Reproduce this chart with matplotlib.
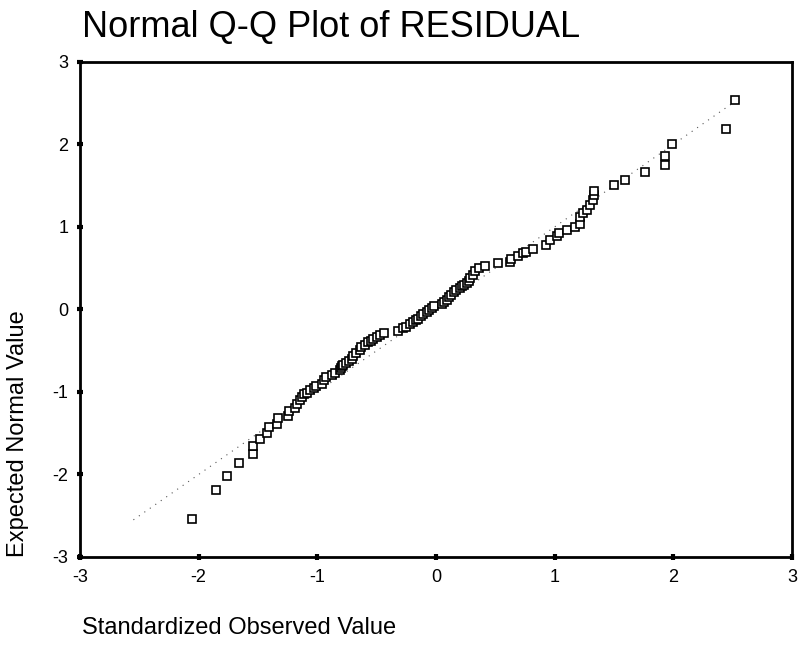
import matplotlib
matplotlib.use('Agg')
import matplotlib.pyplot as plt

# observed (x) vs expected normal (y)
observed = [-2.06, -1.85, -1.76, -1.66, -1.54, -1.54, -1.48, -1.42, -1.41, -1.34,
            -1.33, -1.25, -1.24, -1.19, -1.17, -1.15, -1.13, -1.11, -1.09, -1.06,
            -1.03, -1.01, -0.96, -0.94, -0.93, -0.88, -0.85, -0.81, -0.80, -0.79,
            -0.78, -0.76, -0.73, -0.71, -0.70, -0.67, -0.64, -0.63, -0.60, -0.57,
            -0.55, -0.53, -0.50, -0.47, -0.44, -0.32, -0.28, -0.25, -0.22, -0.19,
            -0.17, -0.15, -0.13, -0.11, -0.08, -0.06, -0.03, -0.02, 0.05, 0.07,
            0.09, 0.11, 0.13, 0.15, 0.17, 0.20, 0.22, 0.24, 0.26, 0.28,
            0.29, 0.31, 0.33, 0.36, 0.41, 0.52, 0.62, 0.63, 0.69, 0.73,
            0.76, 0.82, 0.93, 0.96, 1.02, 1.04, 1.10, 1.17, 1.21, 1.21,
            1.24, 1.27, 1.30, 1.32, 1.33, 1.33, 1.50, 1.59, 1.76, 1.93,
            1.93, 1.99, 2.44, 2.52]
expected = [-2.54, -2.19, -2.02, -1.86, -1.75, -1.66, -1.57, -1.50, -1.43, -1.39,
            -1.32, -1.29, -1.23, -1.19, -1.15, -1.10, -1.06, -1.03, -1.01, -0.98,
            -0.95, -0.93, -0.90, -0.86, -0.82, -0.79, -0.77, -0.73, -0.71, -0.69,
            -0.67, -0.65, -0.63, -0.60, -0.56, -0.53, -0.49, -0.46, -0.43, -0.40,
            -0.38, -0.36, -0.33, -0.31, -0.29, -0.26, -0.23, -0.21, -0.18, -0.15,
            -0.13, -0.11, -0.08, -0.05, -0.03, -0.01, 0.02, 0.04, 0.07, 0.09,
            0.12, 0.15, 0.18, 0.21, 0.24, 0.26, 0.28, 0.30, 0.32, 0.35,
            0.38, 0.42, 0.46, 0.50, 0.53, 0.56, 0.58, 0.61, 0.65, 0.68,
            0.70, 0.73, 0.78, 0.84, 0.89, 0.93, 0.96, 1.00, 1.04, 1.12,
            1.17, 1.21, 1.27, 1.32, 1.39, 1.44, 1.51, 1.57, 1.66, 1.75,
            1.86, 2.01, 2.19, 2.54]
line_range = [-2.55, 2.55]
ticks = [-3, -2, -1, 0, 1, 2, 3]

plt.rcParams['font.family'] = ['Liberation Sans', 'DejaVu Sans']
plt.rcParams['axes.unicode_minus'] = False

fig = plt.figure(figsize=(8, 6.58), dpi=100)
ax = fig.add_axes([0.1, 0.1535, 0.89, 0.7525])

ax.plot(line_range, line_range, color='#555555', lw=0.8, linestyle=(0, (1, 5)))
ax.plot(observed, expected, linestyle='none', marker='s', markersize=6,
        markerfacecolor='white', markeredgecolor='black', markeredgewidth=1.2)

ax.set_xlim(-3, 3)
ax.set_ylim(-3, 3)
ax.set_xticks(ticks)
ax.set_yticks(ticks)
ax.tick_params(direction='inout', length=5, width=3, labelsize=13, pad=6)
for s in ax.spines.values():
    s.set_linewidth(2)

# SPSS puts axis titles justified at the start of the axis
fig.text(0.1025, 0.958, 'Normal Q-Q Plot of RESIDUAL', fontsize=26, va='center', ha='left')
fig.text(0.102, 0.045, 'Standardized Observed Value', fontsize=17, va='center', ha='left')
fig.text(0.022, 0.1535, 'Expected Normal Value', fontsize=17, rotation=90, va='bottom', ha='center')

plt.savefig('out.png', dpi=100)
